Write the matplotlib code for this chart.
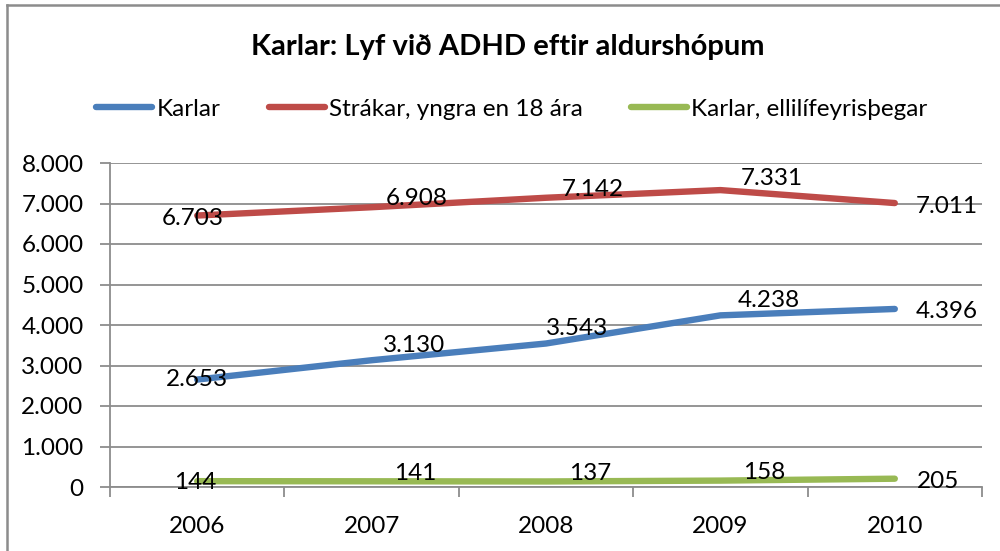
import matplotlib.pyplot as plt
from matplotlib.lines import Line2D

plt.rcParams['font.family'] = ['Lato', 'DejaVu Sans']

years = ["2006", "2007", "2008", "2009", "2010"]
karlar = [2653, 3130, 3543, 4238, 4396]
strakar = [6703, 6908, 7142, 7331, 7011]
ellilif = [144, 141, 137, 158, 205]

series_names = ["Karlar", "Strákar, yngra en 18 ára", "Karlar, ellilífeyrisþegar"]
y_ticks = [0, 1000, 2000, 3000, 4000, 5000, 6000, 7000, 8000]

colors = ["#4A7EBB", "#BE4B48", "#98B954"]
# label offsets from each point, in pixels (dx right, dy up)
label_offsets = [
    [(0, 0), (42, 15), (31, 15), (48, 15), (52, -3)],
    [(-4, -3), (45, 9), (47, 8), (51, 12), (52, -3)],
    [(-2, -1), (44, 8), (44, 8), (44, 8), (43, -3)],
]


def fmt(v):
    # thousands separator as a dot
    return f"{v:,}".replace(",", ".")


fig = plt.figure(figsize=(10, 5.51), dpi=100)
ax = fig.add_axes([0.110, 1 - 487 / 551, 0.872, 324 / 551])

x = list(range(len(years)))
handles = []
for vals, col, name, offs in zip([karlar, strakar, ellilif], colors, series_names, label_offsets):
    ln, = ax.plot(x, vals, color=col, lw=4.6, solid_capstyle="round", solid_joinstyle="round", label=name, zorder=3)
    handles.append(ln)
    for xi, v, (dx, dy) in zip(x, vals, offs):
        ax.annotate(fmt(v), (xi, v), xytext=(dx, dy), textcoords="offset pixels",
                    ha="center", va="center", fontsize=17.5, color="black", zorder=4)

ax.set_xlim(-0.5, len(years) - 0.5)
ax.set_ylim(0, 8000)
ax.set_yticks(y_ticks)
ax.set_yticklabels([fmt(v) for v in y_ticks])
ax.yaxis.grid(True, color="#8C8C8C", lw=1.3)
ax.set_axisbelow(True)

# category labels in the middle, tick marks on the boundaries
ax.set_xticks(x)
ax.set_xticklabels(years)
ax.set_xticks([i - 0.5 for i in range(len(years) + 1)], minor=True)
ax.tick_params(axis="x", which="major", length=0, pad=21, labelsize=17.5)
ax.tick_params(axis="x", which="minor", length=7, width=1.3, color="#8C8C8C", direction="out")
ax.tick_params(axis="y", length=7, width=1.3, color="#8C8C8C", pad=12, labelsize=17.5)

for side in ["top", "right"]:
    ax.spines[side].set_visible(False)
for side in ["left", "bottom"]:
    ax.spines[side].set_color("#8C8C8C")
    ax.spines[side].set_linewidth(1.3)

fig.text(0.508, 1 - 47 / 551, "Karlar: Lyf við ADHD eftir aldurshópum",
         ha="center", va="center", fontsize=21, fontweight="bold")

fig.legend(handles=handles, loc="center", bbox_to_anchor=(0.512, 1 - 109 / 551), ncol=3,
           frameon=False, fontsize=17.5, handlelength=2.3, handletextpad=0.17, columnspacing=2.0)

# outer chart border
fig.add_artist(Line2D([0.0065, 1.0], [1 - 5 / 551, 1 - 5 / 551], color="#8C8C8C", lw=1.8))
fig.add_artist(Line2D([0.0065, 0.0065], [0, 1 - 5 / 551], color="#8C8C8C", lw=1.8))

fig.savefig("out.png", dpi=100)
